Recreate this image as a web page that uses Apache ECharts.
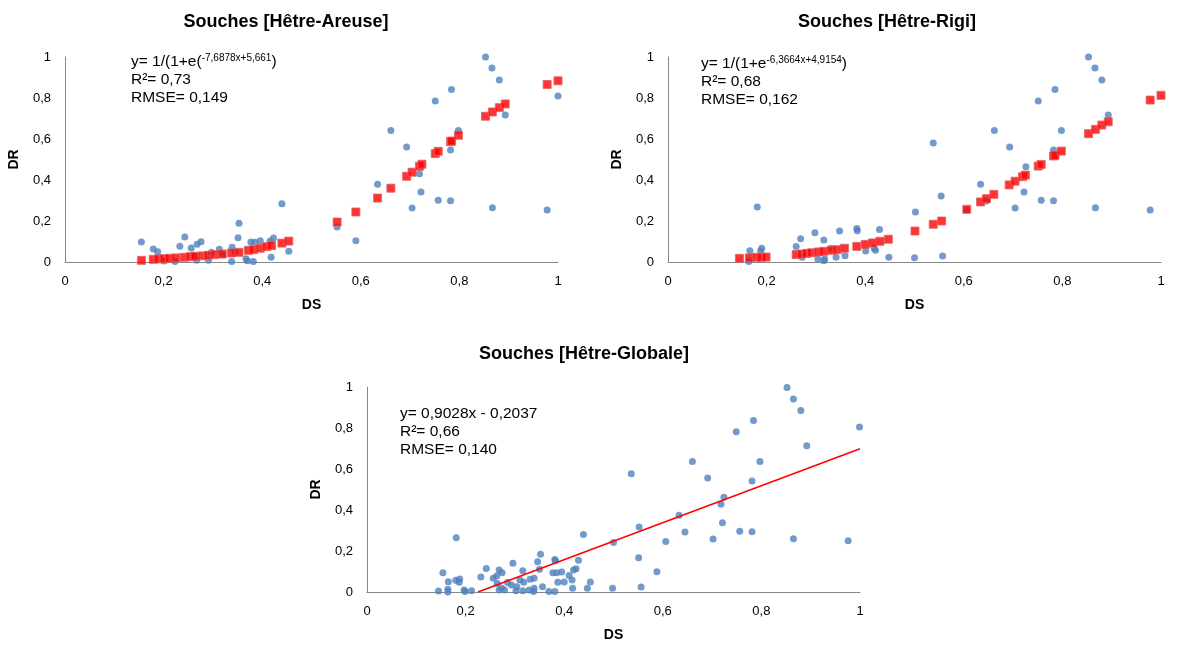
<!DOCTYPE html>
<html>
<head>
<meta charset="utf-8">
<script src="https://cdn.jsdelivr.net/npm/echarts@6/dist/echarts.min.js"></script>
<style>
  html, body { margin: 0; padding: 0; background: #fff; }
  #main { width: 1180px; height: 645px; }
</style>
</head>
<body>
<div id="main"></div>
<script>
// titres
var titles = ['Souches [Hêtre-Areuse]', 'Souches [Hêtre-Rigi]', 'Souches [Hêtre-Globale]'];
var yTicks = [0, 0.2, 0.4, 0.6, 0.8, 1];

// Areuse : observés (bleu) et modèle logistique (rouge)
var areuseObs = [[0.155,0.098],[0.179,0.063],[0.188,0.050],[0.201,0.005],[0.223,0.002],[0.233,0.077],[0.243,0.122],
  [0.256,0.068],[0.262,0.030],[0.267,0.008],[0.268,0.086],[0.276,0.099],[0.291,0.008],[0.297,0.048],[0.313,0.062],
  [0.320,0.035],[0.338,0.002],[0.339,0.072],[0.345,0.050],[0.351,0.118],[0.353,0.189],[0.367,0.016],[0.370,0.006],
  [0.377,0.098],[0.382,0.002],[0.385,0.096],[0.396,0.104],[0.416,0.103],[0.418,0.023],[0.423,0.117],[0.440,0.284],
  [0.454,0.052],[0.552,0.171],[0.590,0.104],[0.634,0.379],[0.661,0.641],[0.693,0.561],[0.704,0.263],[0.719,0.431],
  [0.722,0.341],[0.751,0.785],[0.757,0.301],[0.782,0.546],[0.782,0.299],[0.784,0.841],[0.798,0.641],[0.853,1.0],
  [0.866,0.946],[0.867,0.265],[0.881,0.888],[0.893,0.717],[0.978,0.254],[1.0,0.810]];
var areuseFit = [[0.155,0.008],[0.179,0.013],[0.189,0.015],[0.201,0.016],[0.212,0.018],[0.225,0.020],[0.242,0.023],
  [0.254,0.026],[0.264,0.028],[0.279,0.030],[0.291,0.033],[0.304,0.036],[0.319,0.039],[0.338,0.044],[0.353,0.047],
  [0.372,0.057],[0.382,0.060],[0.396,0.067],[0.409,0.075],[0.419,0.080],[0.440,0.092],[0.454,0.102],
  [0.552,0.195],[0.590,0.244],[0.634,0.312],[0.661,0.360],[0.693,0.418],[0.704,0.438],[0.719,0.467],[0.724,0.477],
  [0.751,0.529],[0.757,0.540],[0.782,0.587],[0.784,0.590],[0.798,0.618],[0.853,0.711],[0.867,0.732],[0.881,0.753],
  [0.893,0.771],[0.978,0.866],[1.0,0.884]];

// Rigi
var rigiObs = [[0.164,0.002],[0.166,0.055],[0.181,0.268],[0.188,0.054],[0.190,0.067],[0.260,0.076],[0.269,0.114],
  [0.272,0.023],[0.298,0.143],[0.304,0.013],[0.316,0.107],[0.316,0.006],[0.318,0.015],[0.331,0.067],[0.341,0.023],
  [0.348,0.151],[0.359,0.031],[0.383,0.164],[0.384,0.153],[0.401,0.054],[0.418,0.067],[0.421,0.057],[0.429,0.159],
  [0.448,0.023],[0.500,0.021],[0.502,0.244],[0.538,0.580],[0.554,0.322],[0.557,0.029],[0.606,0.254],[0.634,0.379],
  [0.646,0.298],[0.662,0.641],[0.693,0.561],[0.704,0.263],[0.722,0.341],[0.726,0.465],[0.751,0.785],[0.757,0.301],
  [0.782,0.546],[0.782,0.299],[0.785,0.841],[0.798,0.642],[0.853,1.0],[0.866,0.946],[0.867,0.265],[0.880,0.888],
  [0.893,0.717],[0.978,0.254]];
var rigiFit = [[0.145,0.018],[0.165,0.020],[0.180,0.023],[0.189,0.023],[0.199,0.024],[0.260,0.036],[0.271,0.039],
  [0.281,0.042],[0.291,0.045],[0.305,0.049],[0.316,0.052],[0.331,0.057],[0.343,0.060],[0.358,0.067],[0.383,0.076],
  [0.400,0.086],[0.415,0.093],[0.430,0.101],[0.447,0.111],[0.501,0.151],[0.538,0.184],[0.555,0.200],[0.606,0.257],
  [0.634,0.293],[0.646,0.309],[0.661,0.330],[0.692,0.376],[0.704,0.394],[0.719,0.416],[0.725,0.424],[0.751,0.468],
  [0.757,0.476],[0.782,0.517],[0.785,0.520],[0.798,0.541],[0.853,0.626],[0.867,0.647],[0.880,0.668],[0.893,0.684],
  [0.978,0.790],[1.0,0.813]];

// Globale
var globalObs = [[0.145,0.005],[0.154,0.094],[0.164,0.013],[0.164,0.0],[0.165,0.050],[0.180,0.057],[0.181,0.265],
  [0.187,0.047],[0.188,0.063],[0.197,0.010],[0.199,0.003],[0.212,0.006],[0.231,0.073],[0.242,0.115],[0.256,0.067],
  [0.263,0.078],[0.264,0.042],[0.268,0.107],[0.268,0.010],[0.273,0.020],[0.274,0.094],[0.279,0.010],[0.285,0.046],
  [0.293,0.034],[0.296,0.140],[0.302,0.006],[0.304,0.026],[0.310,0.059],[0.316,0.104],[0.316,0.006],[0.318,0.047],
  [0.329,0.010],[0.331,0.062],[0.338,0.003],[0.339,0.067],[0.339,0.018],[0.346,0.148],[0.350,0.111],[0.352,0.184],
  [0.356,0.026],[0.369,0.002],[0.377,0.094],[0.381,0.159],[0.381,0.002],[0.382,0.152],[0.385,0.094],[0.387,0.047],
  [0.395,0.098],[0.400,0.049],[0.410,0.081],[0.416,0.059],[0.417,0.018],[0.419,0.107],[0.424,0.114],[0.429,0.155],
  [0.439,0.280],[0.447,0.018],[0.453,0.049],[0.498,0.018],[0.500,0.241],[0.536,0.577],[0.551,0.167],[0.552,0.317],
  [0.556,0.024],[0.588,0.099],[0.606,0.246],[0.633,0.374],[0.645,0.293],[0.660,0.636],[0.691,0.556],[0.702,0.259],
  [0.718,0.428],[0.721,0.338],[0.724,0.462],[0.749,0.782],[0.756,0.296],[0.781,0.541],[0.781,0.294],[0.784,0.837],
  [0.797,0.637],[0.852,0.997],[0.865,0.941],[0.865,0.260],[0.880,0.885],[0.892,0.714],[0.976,0.250],[0.999,0.805]];
var globalFit = [[0.225,0.0],[1.0,0.699]];

// annotations [texte principal, exposant, fin, R², RMSE]
var eqs = [
  ['y= 1/(1+e(', '-7,6878x+5,661', ')', 'R²= 0,73', 'RMSE= 0,149'],
  ['y= 1/(1+e', '-6,3664x+4,9154', ')', 'R²= 0,68', 'RMSE= 0,162'],
  ['y= 0,9028x - 0,2037', '', '', 'R²= 0,66', 'RMSE= 0,140']
];

var grids = [
  { left: 65, top: 57, width: 493, height: 205 },
  { left: 668, top: 57, width: 493, height: 205 },
  { left: 367, top: 387, width: 493, height: 205 }
];
var titlePos = [[281, 8], [882, 8], [579, 340]];
var eqPos = [[131, 53], [701, 55], [400, 406]];

var fmt = function (v) { return String(v).replace('.', ','); };
var font = 'Liberation Sans, Arial, sans-serif';

var myChart = echarts.init(document.getElementById('main'));
var xAxes = [], yAxes = [], series = [], graphic = [], title = [];

grids.forEach(function (g, i) {
  title.push({
    text: titles[i], left: titlePos[i][0], top: titlePos[i][1], textAlign: 'center',
    textStyle: { fontFamily: font, fontSize: 18, fontWeight: 'bold', color: '#000' }
  });
  xAxes.push({
    gridIndex: i, type: 'value', min: 0, max: 1, interval: 0.2,
    name: 'DS', nameLocation: 'middle', nameGap: 36,
    nameTextStyle: { fontFamily: font, fontSize: 14, fontWeight: 'bold', color: '#000' },
    axisLine: { lineStyle: { color: '#888', width: 1 } },
    axisTick: { show: false }, splitLine: { show: false },
    axisLabel: { formatter: fmt, fontFamily: font, fontSize: 13, color: '#000', margin: 13 }
  });
  yAxes.push({
    gridIndex: i, type: 'value', min: 0, max: 1, interval: 0.2,
    name: 'DR', nameLocation: 'middle', nameGap: 44,
    nameTextStyle: { fontFamily: font, fontSize: 14, fontWeight: 'bold', color: '#000' },
    axisLine: { show: true, lineStyle: { color: '#888', width: 1 } },
    axisTick: { show: false }, splitLine: { show: false },
    axisLabel: { formatter: fmt, fontFamily: font, fontSize: 13, color: '#000', margin: 14 }
  });
  var e = eqs[i];
  graphic.push({
    type: 'text', left: eqPos[i][0], top: eqPos[i][1],
    style: {
      text: '{n|' + e[0] + '}' + (e[1] ? '{s|' + e[1] + '}{n|' + e[2] + '}' : '') +
        '\n{n|' + e[3] + '}\n{n|' + e[4] + '}',
      rich: {
        n: { fontFamily: font, fontSize: 15.5, lineHeight: 18, fill: '#000' },
        s: { fontFamily: font, fontSize: 10, lineHeight: 18, fill: '#000', padding: [0, 0, 8, 0] }
      }
    }
  });
});

var blue = { color: '#4F81BD' };
series.push(
  { type: 'scatter', xAxisIndex: 0, yAxisIndex: 0, data: areuseObs, symbolSize: 7, itemStyle: blue },
  { type: 'scatter', xAxisIndex: 0, yAxisIndex: 0, data: areuseFit, symbol: 'rect', symbolSize: 8,
    itemStyle: { color: '#FF0000', borderColor: '#E06060', borderWidth: 1 } },
  { type: 'scatter', xAxisIndex: 1, yAxisIndex: 1, data: rigiObs, symbolSize: 7, itemStyle: blue },
  { type: 'scatter', xAxisIndex: 1, yAxisIndex: 1, data: rigiFit, symbol: 'rect', symbolSize: 8,
    itemStyle: { color: '#FF0000', borderColor: '#E06060', borderWidth: 1 } },
  { type: 'scatter', xAxisIndex: 2, yAxisIndex: 2, data: globalObs, symbolSize: 7, itemStyle: blue },
  { type: 'line', xAxisIndex: 2, yAxisIndex: 2, data: globalFit, showSymbol: false,
    lineStyle: { color: '#FF0000', width: 1.5 } }
);

option = {
  animation: false,
  title: title,
  grid: grids,
  xAxis: xAxes,
  yAxis: yAxes,
  series: series,
  graphic: graphic
};
myChart.setOption(option);
</script>
</body>
</html>
